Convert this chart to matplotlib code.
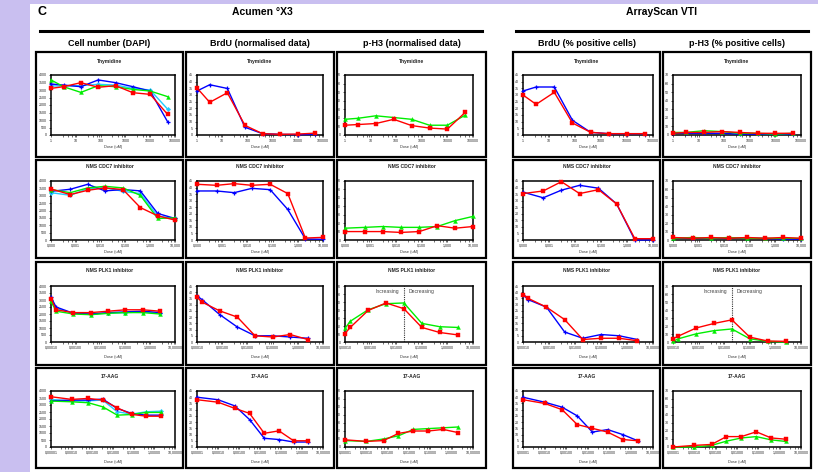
import math
import matplotlib
matplotlib.use("Agg")
import matplotlib.pyplot as plt
from matplotlib.patches import Rectangle
from matplotlib.ticker import FixedLocator, LogLocator, NullFormatter

plt.rcParams['font.family'] = ['Liberation Sans', 'DejaVu Sans']

W, H = 818, 472

# ---------------- data ----------------
dose_thy = [1, 3.2, 16, 80, 400, 2000, 10000, 50000]
dose_cdc7 = [1e-4, 6e-4, 3e-3, 1.5e-2, 8e-2, 0.4, 2, 10]
dose_plk1 = [1e-4, 1.6e-4, 8e-4, 4e-3, 0.02, 0.1, 0.5, 2.5]
dose_aag = [1e-5, 1e-4, 6.4e-4, 3.2e-3, 0.016, 0.08, 0.4, 2]

xlab_thy = ['1', '10', '100', '1000', '10000', '100000']
xlab_cdc7 = ['0,000', '0,001', '0,010', '0,100', '1,000', '10,000']
xlab_plk1 = ['0,00010', '0,00100', '0,01000', '0,10000', '1,00000', '10,00000']
xlab_aag = ['0,00001', '0,00010', '0,00100', '0,01000', '0,10000', '1,00000', '10,00000']

compounds = ['Thymidine', 'NMS CDC7 inhibitor', 'NMS PLK1 inhibitor', '17-AAG']
col_titles = ['Cell number (DAPI)', 'BrdU (normalised data)', 'p-H3 (normalised data)',
              'BrdU (% positive cells)', 'p-H3 (% positive cells)']

# Row 1: Thymidine
thy_dapi = {'cyan': [3270, 3270, 3290, 3380, 3330, 3110, 3000, 1730],
            'blue': [3400, 3330, 3220, 3670, 3490, 3220, 2930, 890],
            'green': [3670, 3220, 2840, 3290, 3220, 3040, 2930, 2560],
            'red': [3110, 3220, 3490, 3180, 3290, 2820, 2710, 1380]}
thy_brdu = {'blue': [33, 37.7, 34.9, 5.8, 1, 0.5, 0.3, 0.5],
            'red': [35.3, 24.5, 31.7, 7.2, 1, 0.5, 0.7, 1.4]}
thy_ph3 = {'green': [18.3, 19.5, 22.4, 20.4, 18.3, 11.4, 11.4, 23.2],
           'red': [11.4, 12.2, 13.4, 18.3, 11, 8.1, 6.9, 26.5]}
thy_brdu_pct = {'blue': [33, 36, 36, 11, 2, 1, 1, 1],
                'red': [30, 23, 32, 9, 2, 1, 1, 1]}
thy_ph3_pct = {'blue': [2, 2, 2, 2, 1, 1, 1, 1],
               'green': [3, 3, 5, 4, 2, 2, 1, 2],
               'red': [2, 3, 3, 4, 3, 2, 2, 2]}

# Row 2: NMS CDC7 inhibitor
cdc7_dapi = {'cyan': [3210, 3030, 3480, 3550, 3300, 3150, 1620, 1460],
             'blue': [3300, 3440, 3775, 3330, 3420, 3330, 1800, 1460],
             'green': [3420, 3210, 3530, 3640, 3530, 3030, 1460, 1500],
             'red': [3460, 3080, 3370, 3530, 3420, 2200, 1640, 1350]}
cdc7_brdu = {'blue': [37.4, 37.4, 36.1, 39.4, 38.4, 23.3, 0.8, 0.5],
             'red': [42.5, 41.7, 43, 41.7, 42.5, 35.4, 1.5, 2]}
cdc7_ph3 = {'green': [14, 15, 16, 15, 15, 16, 23, 28],
            'red': [10, 10, 10, 9, 10, 17, 14, 16]}
cdc7_brdu_pct = {'blue': [36.5, 32.2, 38, 41.7, 39.5, 27.5, 0, 0],
                 'red': [35.4, 37.4, 44.5, 35.4, 38.4, 27.5, 1, 1]}
cdc7_ph3_pct = {'blue': [2, 2, 2, 2, 2, 2, 1, 1],
                'green': [2, 3, 2, 3, 2, 2, 2, 2],
                'red': [3, 2, 3, 2, 3, 2, 3, 2]}

# Row 3: NMS PLK1 inhibitor
plk1_dapi = {'cyan': [3000, 2400, 2050, 2000, 2050, 2100, 2150, 2050],
             'blue': [3200, 2500, 2050, 2000, 2100, 2150, 2200, 2100],
             'green': [2900, 2200, 2000, 1950, 2050, 2100, 2100, 2000],
             'red': [3100, 2300, 2100, 2100, 2200, 2300, 2300, 2200]}
plk1_brdu = {'blue': [37, 34, 22, 12, 5, 5, 4, 3],
             'red': [36, 32, 25, 20, 5, 4, 6, 2]}
plk1_ph3 = {'green': [17, 25.9, 40.3, 47.9, 48.8, 23.3, 19.1, 18.2],
            'red': [10.6, 18.2, 39.4, 48.8, 41.6, 18.2, 11.9, 8.9]}
plk1_brdu_pct = {'blue': [38, 34, 28, 8, 3, 6, 5, 2],
                 'red': [38, 35, 28, 18, 2, 3, 3, 1]}
plk1_ph3_pct = {'green': [0.8, 4, 10.2, 14.2, 16.3, 4, 0.8, 0],
                'red': [4, 7.3, 17.5, 23.2, 27.7, 6.1, 1.2, 0.8]}

# Row 4: 17-AAG
aag_dapi = {'cyan': [3400, 3280, 3300, 3350, 2515, 2350, 2515, 2560],
            'blue': [3300, 3350, 3350, 3425, 2750, 2400, 2275, 2275],
            'green': [3280, 3230, 3160, 2870, 2275, 2320, 2470, 2470],
            'red': [3590, 3400, 3470, 3350, 2800, 2330, 2200, 2200]}
aag_brdu = {'blue': [40, 38, 33, 22, 7, 6, 4, 4],
            'red': [38, 36, 31, 27, 11, 13, 5, 5]}
aag_ph3 = {'green': [8, 7, 10, 14, 22, 23, 24, 25],
           'red': [9, 7, 8, 17, 20, 20, 22, 18]}
aag_brdu_pct = {'blue': [40, 36, 32, 25, 12, 14, 10, 5],
                'red': [38, 35, 30, 18, 15, 12, 6, 5]}
aag_ph3_pct = {'green': [0, 0, 2, 7.3, 11.3, 13, 8.9, 6.9],
               'red': [0, 2, 3.2, 13, 13, 19, 11.3, 9.7]}

# ---------------- styles ----------------
colors = {'blue': '#0000ff', 'red': '#ff0000', 'green': '#00ee00', 'cyan': '#22ccff'}
markers = {'blue': '+', 'red': 's', 'green': '^', 'cyan': 'D'}
msizes = {'blue': 3.5, 'red': 2.6, 'green': 2.8, 'cyan': 2.2}
draw_order = ['cyan', 'blue', 'green', 'red']

fig = plt.figure(figsize=(W / 100, H / 100), dpi=100)
fig.patch.set_facecolor('#c9bff0')
bg = fig.add_axes([30 / W, 0, 1 - 30 / W, 1 - 4 / H])
bg.set_axis_off()
bg.add_patch(Rectangle((0, 0), 1, 1, transform=bg.transAxes, facecolor='white', edgecolor='none'))


def fx(x):
    return x / W


def fy(y):
    return 1 - y / H


# headers
fig.text(fx(38), fy(12), 'C', fontsize=9, fontweight='bold', ha='left', va='center')
fig.text(fx(262), fy(12), 'Acumen °X3', fontsize=7.5, fontweight='bold', ha='center', va='center')
fig.text(fx(662), fy(12), 'ArrayScan VTI', fontsize=7.5, fontweight='bold', ha='center', va='center')
fig.add_artist(plt.Line2D([fx(40), fx(482)], [fy(31), fy(31)], color='black', lw=2.2))
fig.add_artist(plt.Line2D([fx(516), fx(808)], [fy(31), fy(31)], color='black', lw=2.2))

cols = [(36, 183), (186, 334), (337, 486), (513, 660), (663, 811)]
rows = [(52, 157), (160, 258), (262, 365), (368, 468)]
ax_lr = [(51, 175), (197, 323), (345, 473), (523, 653), (673, 801)]
ax_tb = [(75, 135), (181, 240), (286, 342), (391, 447)]
title_y = [61, 166, 271, 376]
xlabel_y = [147, 252, 357, 462]

for c, t in enumerate(col_titles):
    fig.text(fx((cols[c][0] + cols[c][1]) / 2), fy(44), t, fontsize=6.5,
             fontweight='bold', ha='center', va='center')

row_doses = [dose_thy, dose_cdc7, dose_plk1, dose_aag]
row_xlim = [(1, 1e5), (1e-4, 10), (1e-4, 10), (1e-5, 10)]
row_xlabels = [xlab_thy, xlab_cdc7, xlab_plk1, xlab_aag]
panels = [[thy_dapi, thy_brdu, thy_ph3, thy_brdu_pct, thy_ph3_pct],
          [cdc7_dapi, cdc7_brdu, cdc7_ph3, cdc7_brdu_pct, cdc7_ph3_pct],
          [plk1_dapi, plk1_brdu, plk1_ph3, plk1_brdu_pct, plk1_ph3_pct],
          [aag_dapi, aag_brdu, aag_ph3, aag_brdu_pct, aag_ph3_pct]]
col_ylim = [(4000, 500), (45, 5), (70, 10), (45, 5), (70, 10)]

for r in range(4):
    for c in range(5):
        x0, x1 = cols[c]
        y0, y1 = rows[r]
        fig.add_artist(Rectangle((fx(x0), fy(y1)), (x1 - x0) / W, (y1 - y0) / H,
                                 transform=fig.transFigure, fill=False,
                                 edgecolor='black', lw=1.6))
        fig.text(fx((x0 + x1) / 2), fy(title_y[r]), compounds[r], fontsize=3.6,
                 fontweight='bold', ha='center', va='center', color='#222222')
        fig.text(fx((ax_lr[c][0] + ax_lr[c][1]) / 2), fy(xlabel_y[r]), 'Dose (uM)',
                 fontsize=2.8, ha='center', va='center', color='#333333')
        l, rr = ax_lr[c]
        t, b = ax_tb[r]
        ax = fig.add_axes([fx(l), fy(b), (rr - l) / W, (b - t) / H])
        ax.set_xscale('log')
        ax.set_xlim(*row_xlim[r])
        ymax, ystep = col_ylim[c]
        ax.set_ylim(0, ymax)
        ax.yaxis.set_major_locator(FixedLocator(list(range(0, ymax + 1, ystep))))
        lo, hi = row_xlim[r]
        majors = [10 ** k for k in range(int(round(math.log10(lo))), int(round(math.log10(hi))) + 1)]
        ax.xaxis.set_major_locator(FixedLocator(majors))
        ax.set_xticklabels(row_xlabels[r])
        ax.xaxis.set_minor_locator(LogLocator(base=10, subs=(3, 5, 7, 9), numticks=20))
        ax.xaxis.set_minor_formatter(NullFormatter())
        ax.tick_params(axis='both', which='major', labelsize=2.6, length=1.5, width=0.5,
                       pad=1.2, direction='out', colors='#222222')
        ax.tick_params(axis='x', which='minor', length=1.2, width=0.4, direction='out')
        for s in ax.spines.values():
            s.set_linewidth(1.1)
            s.set_color('black')
        data = panels[r][c]
        for name in draw_order:
            if name in data:
                ax.plot(row_doses[r], data[name], color=colors[name], lw=1.0,
                        marker=markers[name], ms=msizes[name], mew=0.9 if name == 'blue' else 0.3,
                        mec=colors[name], clip_on=False, zorder=3)
        if r == 2 and c in (2, 4):
            ax.axvline(0.02, color='#333333', lw=0.8, ls=(0, (1, 1)))
            ax.text(0.013, 0.9 * ymax, 'Increasing', fontsize=3.6, ha='right', va='center', color='#444444')
            ax.text(0.03, 0.9 * ymax, 'Decreasing', fontsize=3.6, ha='left', va='center', color='#444444')

fig.savefig('out.png', dpi=100, facecolor=fig.get_facecolor())
